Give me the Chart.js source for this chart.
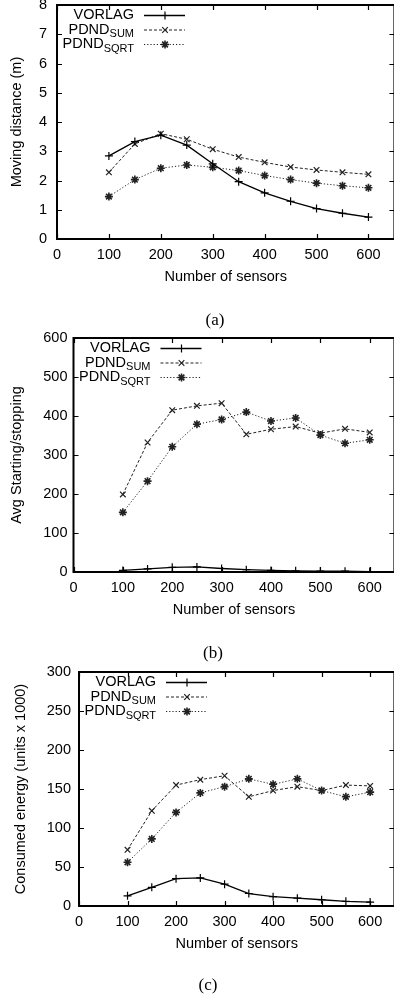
<!DOCTYPE html>
<html>
<head>
<meta charset="utf-8">
<script src="https://cdn.jsdelivr.net/npm/chart.js@4.4.1/dist/chart.umd.min.js"></script>
<style>
  html, body { margin: 0; padding: 0; background: #fff; }
  body { width: 394px; height: 1000px; overflow: hidden; position: relative; }
  canvas { position: absolute; left: 0; }
  .cap { position: absolute; font-family: "Liberation Serif", "DejaVu Serif", serif; font-size: 17px; color: #000; transform: translate(-50%, -50%); white-space: nowrap; }
</style>
</head>
<body>
<canvas id="ca" width="400" height="311" style="top:-25px;width:400px;height:311px"></canvas>
<canvas id="cb" width="400" height="311" style="top:308px;width:400px;height:311px"></canvas>
<canvas id="cc" width="400" height="311" style="top:642px;width:400px;height:311px"></canvas>
<div class="cap" style="left:215px;top:320px">(a)</div>
<div class="cap" style="left:213px;top:653px">(b)</div>
<div class="cap" style="left:208px;top:985px">(c)</div>
<script>
// ---- data ----
const sensors = [100, 150, 200, 250, 300, 350, 400, 450, 500, 550, 600];
const xTickValues = [0, 100, 200, 300, 400, 500, 600];
const seriesNames = ['VORLAG', 'PDND', 'PDND'];
const seriesSubs = ['', 'SUM', 'SQRT'];
const xTitle = 'Number of sensors';

const movingVorlag = [2.84, 3.33, 3.55, 3.21, 2.57, 1.96, 1.58, 1.29, 1.04, 0.88, 0.75];
const movingSum    = [2.28, 3.25, 3.60, 3.41, 3.07, 2.80, 2.62, 2.46, 2.36, 2.28, 2.21];
const movingSqrt   = [1.45, 2.03, 2.42, 2.53, 2.45, 2.34, 2.17, 2.03, 1.91, 1.82, 1.75];

const startVorlag = [4, 8, 12, 13, 9, 6, 4, 3, 2, 2, 1];
const startSum    = [199, 332, 415, 426, 433, 353, 366, 373, 356, 367, 358];
const startSqrt   = [153, 233, 321, 379, 391, 410, 387, 395, 351, 330, 339];

const energyVorlag = [13, 24, 35, 36, 28, 16, 12, 10, 8, 6, 5];
const energySum    = [72, 122, 155, 162, 167, 140, 148, 153, 148, 155, 154];
const energySqrt   = [56, 86, 120, 145, 153, 163, 156, 163, 148, 140, 146];

const FONT = 'Liberation Sans';

const framePlugin = {
  id: 'frame',
  afterDatasetsDraw(chart) {
    const ctx = chart.ctx;
    const a = chart.chartArea;
    const xs = chart.scales.x, ys = chart.scales.y;
    ctx.save();
    ctx.strokeStyle = '#000';
    ctx.setLineDash([]);
    // inward ticks
    ctx.lineWidth = 1.2;
    const tl = 5;
    ctx.beginPath();
    xs.ticks.forEach(t => {
      const px = Math.round(xs.getPixelForValue(t.value)) + 0.5;
      ctx.moveTo(px, a.bottom); ctx.lineTo(px, a.bottom - tl);
      ctx.moveTo(px, a.top); ctx.lineTo(px, a.top + tl);
    });
    ys.ticks.forEach(t => {
      const py = Math.round(ys.getPixelForValue(t.value)) + 0.5;
      ctx.moveTo(a.left, py); ctx.lineTo(a.left + tl, py);
      ctx.moveTo(a.right, py); ctx.lineTo(a.right - tl, py);
    });
    ctx.stroke();
    // border
    ctx.lineWidth = 2;
    ctx.strokeRect(a.left, a.top, a.right - a.left, a.bottom - a.top);

    // legend
    const textRight = a.left + 77;
    chart.data.datasets.forEach((ds, i) => {
      const y = a.top + 10 + i * 14.5;
      ctx.fillStyle = '#000';
      ctx.textBaseline = 'middle';
      ctx.textAlign = 'right';
      let subW = 0;
      if (ds.sub) {
        ctx.font = '11px "' + FONT + '"';
        subW = ctx.measureText(ds.sub).width;
        ctx.fillText(ds.sub, textRight, y + 4.5);
      }
      ctx.font = '14.5px "' + FONT + '"';
      ctx.fillText(ds.label, textRight - subW, y);
      // sample
      const ly = y + 0.5;
      ctx.strokeStyle = ds.borderColor;
      ctx.lineWidth = ds.borderWidth;
      ctx.setLineDash(ds.borderDash || []);
      ctx.beginPath();
      ctx.moveTo(a.left + 87, ly); ctx.lineTo(a.left + 128, ly);
      ctx.stroke();
      ctx.setLineDash([]);
      ctx.lineWidth = ds.pointBorderWidth;
      Chart.helpers.drawPoint(ctx, {pointStyle: ds.pointStyle, radius: ds.pointRadius, rotation: 0, borderWidth: ds.pointBorderWidth}, a.left + 108, ly);
    });
    ctx.restore();
  }
};

function makeDatasets(v, s, q) {
  const vals = [v, s, q];
  const styles = [
    {pointStyle: 'cross', borderDash: [], borderWidth: 1.3, borderColor: '#000', pointBorderWidth: 1.2},
    {pointStyle: 'crossRot', borderDash: [3, 2], borderWidth: 1, borderColor: '#222', pointBorderWidth: 1.2},
    {pointStyle: 'star', borderDash: [1.2, 2], borderWidth: 1, borderColor: '#222', pointBorderWidth: 1.6}
  ];
  return vals.map((d, i) => Object.assign({
    label: seriesNames[i],
    sub: seriesSubs[i],
    data: sensors.map((x, k) => ({x: x, y: d[k]})),
    fill: false,
    tension: 0,
    pointRadius: 4,
    pointHoverRadius: 4,
    pointBackgroundColor: 'rgba(0,0,0,0)',
    pointBorderColor: styles[i].borderColor
  }, styles[i]));
}

function makeChart(id, datasets, yMax, yStep, yTitle, chartLeft, yTitlePad, yTickPad) {
  return new Chart(document.getElementById(id), {
    type: 'line',
    data: { datasets: datasets },
    plugins: [framePlugin],
    options: {
      responsive: false,
      animation: false,
      devicePixelRatio: 1,
      layout: { padding: { top: 30, right: 3.5, bottom: 0, left: 0 } },
      plugins: { legend: { display: false }, tooltip: { enabled: false } },
      scales: {
        x: {
          type: 'linear', min: 0, max: 650,
          ticks: { color: '#000', padding: 7, maxRotation: 0, autoSkip: false,
                   font: { family: FONT, size: 14.5 } },
          afterBuildTicks: (s) => { s.ticks = xTickValues.map(v => ({ value: v })); },
          afterFit: (s) => { s.height = 47; },
          grid: { display: false, drawTicks: false },
          border: { display: false },
          title: { display: true, text: xTitle, color: '#000', padding: 0,
                   font: { family: FONT, size: 14.5, lineHeight: 1.2 } }
        },
        y: {
          type: 'linear', min: 0, max: yMax,
          ticks: { stepSize: yStep, color: '#000', padding: yTickPad, autoSkip: false,
                   font: { family: FONT, size: 14.5 } },
          afterFit: (s) => { s.width = chartLeft; },
          grid: { display: false, drawTicks: false },
          border: { display: false },
          title: { display: true, text: yTitle, color: '#000', padding: { top: yTitlePad, bottom: 0 },
                   font: { family: FONT, size: 14.5, lineHeight: 1.2 } }
        }
      }
    }
  });
}

makeChart('ca', makeDatasets(movingVorlag, movingSum, movingSqrt), 8, 1, 'Moving distance (m)', 57, 8, 10);
makeChart('cb', makeDatasets(startVorlag, startSum, startSqrt), 600, 100, 'Avg Starting/stopping', 73.5, 8, 6);
makeChart('cc', makeDatasets(energyVorlag, energySum, energySqrt), 300, 50, 'Consumed energy (units x 1000)', 79, 12, 8);
</script>
</body>
</html>
